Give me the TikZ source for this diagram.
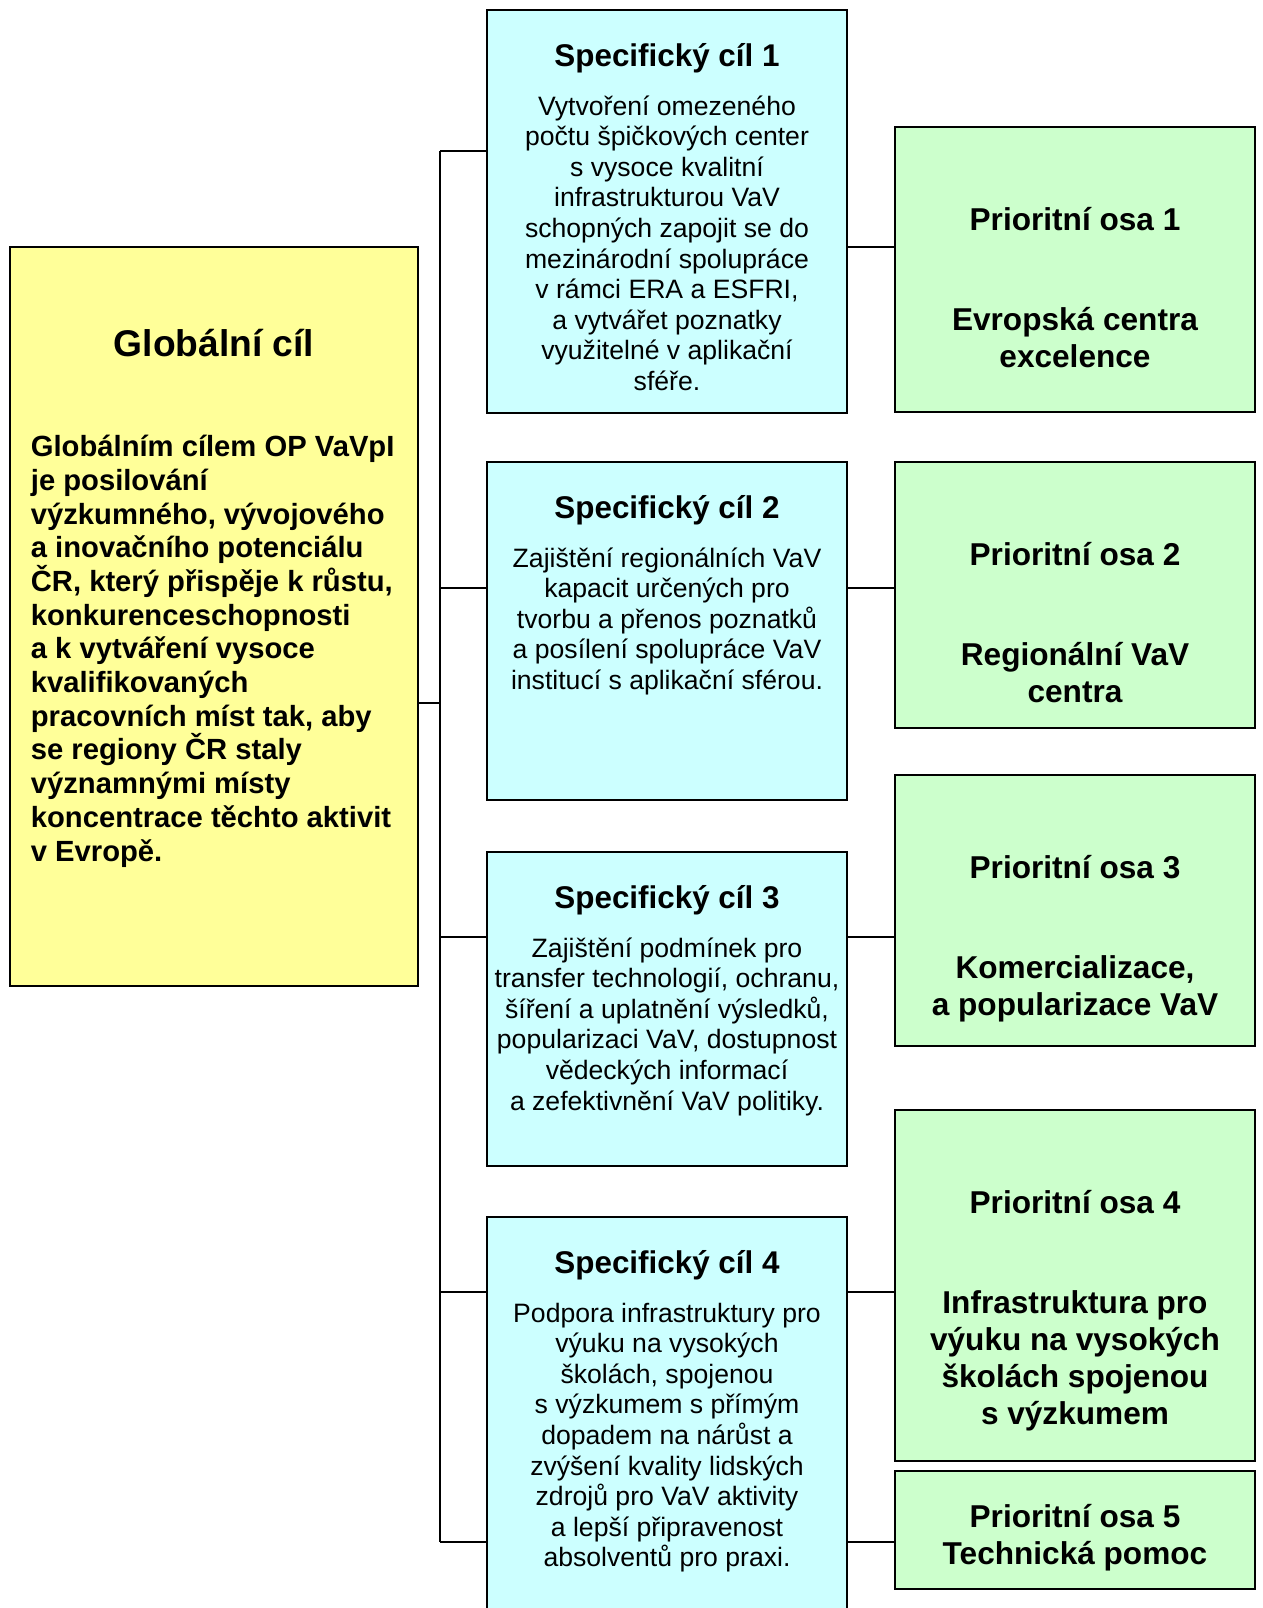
\documentclass[tikz,border=0pt]{standalone}
\usepackage{fontspec}
\setmainfont{Liberation Sans}

\definecolor{globfill}{HTML}{FFFF99}
\definecolor{specfill}{HTML}{CCFFFF}
\definecolor{priofill}{HTML}{CCFFCC}

% strut for the top of the first line
\newcommand{\firstln}{\rule{0pt}{1em}}

\tikzset{
  box/.style={draw, line width=1pt, inner sep=0pt},
  globbox/.style={box, fill=globfill, minimum width=204pt},
  specbox/.style={box, fill=specfill, minimum width=180pt},
  priobox/.style={box, fill=priofill, minimum width=180pt},
  globtitle/.style={anchor=north, inner sep=0pt, font=\fontsize{18.6}{22}\selectfont\bfseries},
  globtext/.style={anchor=north west, inner sep=0pt, align=left, font=\fontsize{14.6}{16.85}\selectfont\bfseries},
  spectitle/.style={anchor=north, inner sep=0pt, font=\fontsize{15.7}{18}\selectfont\bfseries},
  spectext/.style={anchor=north, inner sep=0pt, align=center, font=\fontsize{13.3}{15.3}\selectfont},
  priotext/.style={anchor=north, inner sep=0pt, align=center, font=\fontsize{15.8}{18.5}\selectfont\bfseries},
  link/.style={line width=1pt}
}

\begin{document}
\begin{tikzpicture}[x=0.5pt, y=-0.5pt]
  \def\Xg{214};
  \def\Xj{440};
  \def\Xs{667};
  \def\Xp{1075};

  \useasboundingbox (0,0) rectangle (1263,1608);
  \clip (0,0) rectangle (1263,1608);

  % boxes
  \node[globbox, minimum height=369.5pt] (g) at (\Xg, 616.5) {};

  \node[specbox, minimum height=201.5pt] (s1) at (\Xs, 211.5) {};
  \node[specbox, minimum height=169pt] (s2) at (\Xs, 631) {};
  \node[specbox, minimum height=157pt] (s3) at (\Xs, 1009) {};
  \node[specbox, minimum height=201.5pt] (s4) at (\Xs, 1418.5) {};

  \node[priobox, minimum height=142.5pt] (p1) at (\Xp, 269.5) {};
  \node[priobox, minimum height=133pt] (p2) at (\Xp, 595) {};
  \node[priobox, minimum height=135.5pt] (p3) at (\Xp, 910.5) {};
  \node[priobox, minimum height=175.5pt] (p4) at (\Xp, 1285.5) {};
  \node[priobox, minimum height=59pt] (p5) at (\Xp, 1530) {};

  % junctions
  \coordinate (j0) at (\Xj, 703);
  \coordinate (j1) at (\Xj, 151);
  \coordinate (j2) at (\Xj, 588);
  \coordinate (j3) at (\Xj, 937);
  \coordinate (j4) at (\Xj, 1292);
  \coordinate (j5) at (\Xj, 1542);
  \coordinate (k1) at (871, 247);

  % lines
  \draw[link] (j1) -- (j5);
  \draw[link] (g.east |- j0) -- (j0);
  \draw[link] (j1) -- (j1 -| s1.west);
  \draw[link] (j2) -- (j2 -| s2.west);
  \draw[link] (j3) -- (j3 -| s3.west);
  \draw[link] (j4) -- (j4 -| s4.west);
  \draw[link] (j5) -- (j5 -| s4.west);

  \draw[link] (k1 -| s1.east) -- (k1 -| p1.west);
  \draw[link] (j2 -| s2.east) -- (j2 -| p2.west);
  \draw[link] (j3 -| s3.east) -- (j3 -| p3.west);
  \draw[link] (j4 -| s4.east) -- (j4 -| p4.west);
  \draw[link] (j5 -| s4.east) -- (j5 -| p5.west);

  % global
  \node[globtitle] (gtitle) at (\Xg, 319) {\firstln Globální cíl};
  \node[globtext] (gtext) at (30.5, 427) {\firstln Globálním cílem OP VaVpI\\
    je posilování\\
    výzkumného, vývojového\\
    a inovačního potenciálu\\
    ČR, který přispěje k růstu,\\
    konkurenceschopnosti\\
    a k vytváření vysoce\\
    kvalifikovaných\\
    pracovních míst tak, aby\\
    se regiony ČR staly\\
    významnými místy\\
    koncentrace těchto aktivit\\
    v Evropě.};

  % specific goals
  \node[spectitle] (s1title) at (\Xs, 35) {\firstln Specifický cíl 1};
  \node[spectext] (s1text) at (\Xs, 88) {\firstln Vytvoření omezeného\\
    počtu špičkových center\\
    s vysoce kvalitní\\
    infrastrukturou VaV\\
    schopných zapojit se do\\
    mezinárodní spolupráce\\
    v rámci ERA a ESFRI,\\
    a vytvářet poznatky\\
    využitelné v aplikační\\
    sféře.};

  \node[spectitle] (s2title) at (\Xs, 487) {\firstln Specifický cíl 2};
  \node[spectext] (s2text) at (\Xs, 540) {\firstln Zajištění regionálních VaV\\
    kapacit určených pro\\
    tvorbu a přenos poznatků\\
    a posílení spolupráce VaV\\
    institucí s aplikační sférou.};

  \node[spectitle] (s3title) at (\Xs, 877) {\firstln Specifický cíl 3};
  \node[spectext] (s3text) at (\Xs, 930) {\firstln Zajištění podmínek pro\\
    transfer technologií, ochranu,\\
    šíření a uplatnění výsledků,\\
    popularizaci VaV, dostupnost\\
    vědeckých informací\\
    a zefektivnění VaV politiky.};

  \node[spectitle] (s4title) at (\Xs, 1242) {\firstln Specifický cíl 4};
  \node[spectext] (s4text) at (\Xs, 1295) {\firstln Podpora infrastruktury pro\\
    výuku na vysokých\\
    školách, spojenou\\
    s výzkumem s přímým\\
    dopadem na nárůst a\\
    zvýšení kvality lidských\\
    zdrojů pro VaV aktivity\\
    a lepší připravenost\\
    absolventů pro praxi.};

  % priority axes
  \node[priotext] (p1text) at (\Xp, 198.6) {\firstln Prioritní osa 1\\[31.5pt]
    Evropská centra\\ excelence};
  \node[priotext] (p2text) at (\Xp, 533.6) {\firstln Prioritní osa 2\\[31.5pt]
    Regionální VaV\\ centra};
  \node[priotext] (p3text) at (\Xp, 846.6) {\firstln Prioritní osa 3\\[31.5pt]
    Komercializace,\\ a popularizace VaV};
  \node[priotext] (p4text) at (\Xp, 1181.6) {\firstln Prioritní osa 4\\[31.5pt]
    Infrastruktura pro\\ výuku na vysokých\\ školách spojenou\\ s výzkumem};
  \node[priotext] (p5text) at (\Xp, 1495) {\firstln Prioritní osa 5\\
    Technická pomoc};

\end{tikzpicture}
\end{document}
